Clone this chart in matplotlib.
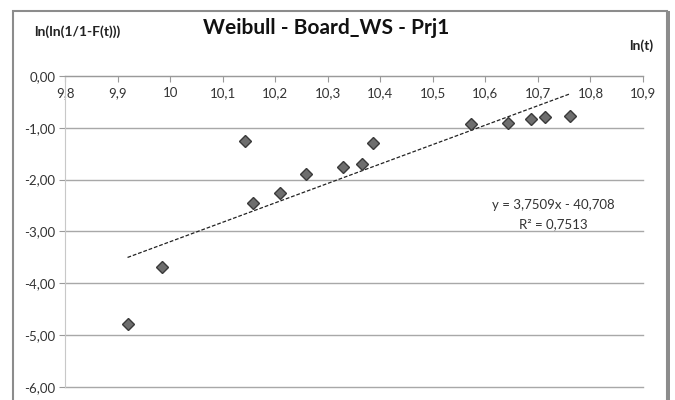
import matplotlib
matplotlib.use("Agg")
import matplotlib.pyplot as plt
import numpy as np
from matplotlib.patches import Rectangle
from matplotlib.ticker import FuncFormatter

plt.rcParams['font.family'] = ['Lato', 'DejaVu Sans']

# ln(t) and ln(ln(1/(1-F(t))))
ln_t = [9.919, 9.984, 10.143, 10.158, 10.210, 10.259, 10.330, 10.365,
        10.387, 10.572, 10.644, 10.687, 10.713, 10.761]
ln_ln = [-4.79, -3.69, -1.26, -2.45, -2.25, -1.89, -1.76, -1.70,
         -1.30, -0.93, -0.91, -0.83, -0.79, -0.77]

# trendline as printed on the chart
slope = 3.7509
intercept = -40.708
r2 = 0.7513

x_ticks = [9.8, 9.9, 10.0, 10.1, 10.2, 10.3, 10.4, 10.5, 10.6, 10.7, 10.8, 10.9]
x_tick_labels = ["9,8", "9,9", "10", "10,1", "10,2", "10,3", "10,4", "10,5",
                 "10,6", "10,7", "10,8", "10,9"]
y_ticks = [0, -1, -2, -3, -4, -5, -6]

fig = plt.figure(figsize=(6.75, 4), dpi=100)
ax = fig.add_axes([0.0963, 0.033, 0.8563, 0.777])

ax.set_xlim(9.8, 10.9)
ax.set_ylim(-6, 0)

# trendline over the data range
xs = np.array([min(ln_t), max(ln_t)])
ax.plot(xs, slope * xs + intercept, linestyle=(0, (3, 1.5)), color="#222222",
        linewidth=0.9, zorder=2)

ax.plot(ln_t, ln_ln, linestyle="none", marker="D", markersize=6.5,
        markerfacecolor="#6e6e6e", markeredgecolor="#3a3a3a",
        markeredgewidth=1.0, zorder=3)

# x axis sits at y = 0, labels below it
ax.spines['bottom'].set_position(('data', 0))
ax.spines['top'].set_visible(False)
ax.spines['right'].set_visible(False)
ax.spines['bottom'].set_color("#9a9a9a")
ax.spines['left'].set_color("#c8c8c8")

ax.set_xticks(x_ticks)
ax.set_xticklabels(x_tick_labels)
ax.set_yticks(y_ticks)
ax.yaxis.set_major_formatter(FuncFormatter(lambda v, p: f"{v:.2f}".replace(".", ",")))
ax.tick_params(axis='x', direction='out', length=4, color="#9a9a9a",
               labelsize=9.5, labelcolor="#333333", pad=4)
ax.tick_params(axis='y', direction='out', length=4, color="#9a9a9a",
               labelsize=9.5, labelcolor="#333333", pad=3)

ax.grid(axis='y', color="#a8a8a8", linewidth=1.0)
for gl in ax.get_ygridlines():
    gl.set_clip_on(False)
ax.set_axisbelow(True)

fig.text(0.483, 0.93, "Weibull - Board_WS - Prj1", ha="center", va="center",
         fontsize=15, fontweight="bold", color="#111111")
fig.text(0.05, 0.92, "ln(ln(1/1-F(t)))", ha="left", va="center",
         fontsize=10, fontweight="bold", color="#222222")
fig.text(0.968, 0.885, "ln(t)", ha="right", va="center",
         fontsize=10, fontweight="bold", color="#222222")

ax.text(0.82, 0.487,
        "y = " + f"{slope:.4f}".replace(".", ",") + "x - " +
        f"{abs(intercept):.3f}".replace(".", ","),
        transform=fig.transFigure, ha="center", va="center",
        fontsize=9.5, color="#333333")
ax.text(0.82, 0.44, "R² = " + f"{r2:.4f}".replace(".", ","),
        transform=fig.transFigure, ha="center", va="center",
        fontsize=9.5, color="#333333")

# chart frame
fig.patches.append(Rectangle((13 / 675, -0.02), 654 / 675, 1.02 - 11 / 400,
                             transform=fig.transFigure, fill=False,
                             edgecolor="#8c8c8c", linewidth=1.5))
fig.patches.append(Rectangle((667 / 675, -0.02), 3 / 675, 1.02 - 11 / 400,
                             transform=fig.transFigure, fill=True,
                             facecolor="#8c8c8c", edgecolor="none"))

fig.savefig("out.png", dpi=100)
